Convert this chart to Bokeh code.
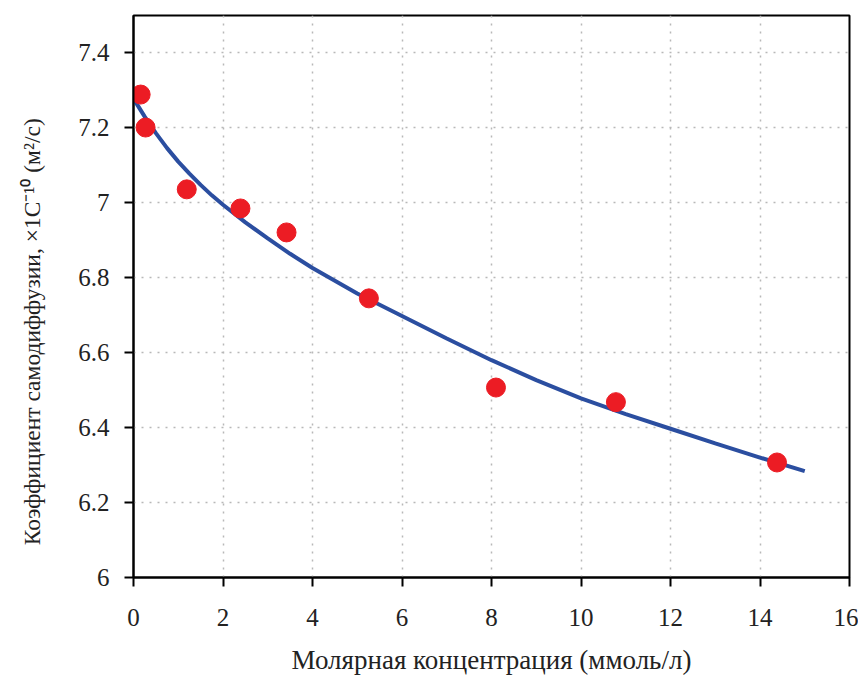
from bokeh.plotting import figure
from bokeh.models import Range1d, FixedTicker, CustomJSTickFormatter
from bokeh.embed import file_html
from bokeh.resources import INLINE

# measured points
conc = [0.16, 0.27, 1.19, 2.39, 3.42, 5.26, 8.10, 10.78, 14.38]
diff = [7.289, 7.201, 7.036, 6.985, 6.921, 6.745, 6.507, 6.468, 6.307]

# fitted curve
fit_x = [0, 0.25, 0.5, 0.75, 1, 1.25, 1.5, 1.75, 2, 2.5, 3, 3.5, 4, 5, 6, 7, 8,
         9, 10, 11, 12, 13, 14, 15]
fit_y = [7.278, 7.230, 7.186, 7.146, 7.110, 7.078, 7.048, 7.020, 6.995, 6.948,
         6.905, 6.864, 6.826, 6.758, 6.698, 6.638, 6.580, 6.527, 6.478, 6.436,
         6.397, 6.358, 6.320, 6.284]

x_ticks = [0, 2, 4, 6, 8, 10, 12, 14, 16]
y_ticks = [6, 6.2, 6.4, 6.6, 6.8, 7, 7.2, 7.4]

FONT = "'Liberation Serif', 'Times New Roman', serif"

p = figure(width=858, height=680, output_backend="svg", toolbar_location=None,
           x_range=Range1d(0, 16), y_range=Range1d(6, 7.5),
           min_border_left=133, min_border_right=9, min_border_top=15,
           min_border_bottom=103)

p.line(fit_x, fit_y, line_color="#2b4ea0", line_width=4)
p.scatter(conc, diff, size=19, fill_color="#ec1c24", line_color="#ec1c24")

p.outline_line_color = "black"
p.outline_line_width = 2

for ax in (p.xaxis[0], p.yaxis[0]):
    ax.axis_line_color = "black"
    ax.axis_line_width = 2
    ax.major_tick_line_color = "black"
    ax.major_tick_line_width = 2
    ax.major_tick_in = 0
    ax.major_tick_out = 9
    ax.minor_tick_line_color = None
    ax.major_label_text_font = FONT
    ax.major_label_text_font_size = "25px"
    ax.major_label_text_color = "#222222"
    ax.axis_label_text_font = FONT
    ax.axis_label_text_font_style = "normal"
    ax.axis_label_text_color = "#222222"

p.xaxis.ticker = FixedTicker(ticks=x_ticks)
p.yaxis.ticker = FixedTicker(ticks=y_ticks)
p.yaxis.formatter = CustomJSTickFormatter(code="return String(Number(tick.toFixed(1)));")
p.xaxis.major_label_standoff = 22
p.yaxis.major_label_standoff = 15
p.xaxis.axis_label = "Молярная концентрация (ммоль/л)"
p.yaxis.axis_label = "Коэффициент самодиффузии, ×1C⁻¹⁰ (м²/с)\u2003\u2003\u2003"
p.xaxis.axis_label_text_font_size = "27px"
p.yaxis.axis_label_text_font_size = "23.5px"
p.xaxis.axis_label_standoff = 16
p.yaxis.axis_label_standoff = 30

p.xgrid.ticker = FixedTicker(ticks=x_ticks)
p.ygrid.ticker = FixedTicker(ticks=y_ticks)
for g in (p.xgrid[0], p.ygrid[0]):
    g.grid_line_color = "#b8b8b8"
    g.grid_line_dash = "2 6"
    g.grid_line_width = 1.5

open("out.html", "w").write(file_html(p, INLINE))
